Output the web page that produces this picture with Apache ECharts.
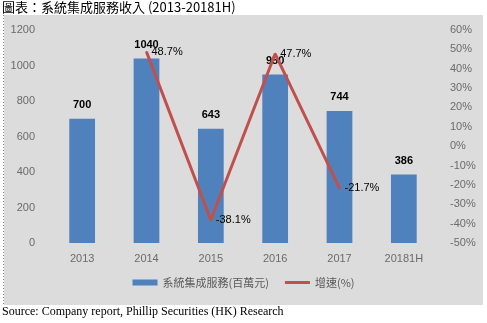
<!DOCTYPE html>
<html><head><meta charset="utf-8">
<script src="https://cdn.jsdelivr.net/npm/echarts@6/dist/echarts.min.js"></script>
<style>html,body{margin:0;padding:0;background:#fff}#c{width:487px;height:323px}</style>
</head><body><div id="c"></div>
<script>
const categories = ['2013','2014','2015','2016','2017','20181H'];
const revenue = [700, 1040, 643, 950, 744, 386];
const growth = [null, 48.7, -38.1, 47.7, -21.7, null];
const leftTicks = [0, 1200, 200];
const rightTicks = [-50, 60, 10];

const chart = echarts.init(document.getElementById('c'), null, {renderer:'canvas'});
const axisFont = {color:'#6b6b6b', fontSize:11, fontFamily:'"Liberation Sans", Arial, sans-serif'};
chart.setOption({
  animation:false,
  graphic:[
    {type:'rect', shape:{x:4, y:15, width:479, height:290}, style:{fill:'#dcdcdc'}, z:-10},
    {type:'line', shape:{x1:3.5, y1:15, x2:3.5, y2:305}, style:{stroke:'#888', lineDash:[1,2], lineWidth:1}, z:-9},
    {type:'text', left:2, top:1, style:{text:'圖表：系統集成服務收入 (2013-20181H)', fill:'#000', font:'13px "Noto Sans CJK TC", "Liberation Serif", serif'}},
    {type:'text', left:2, top:306, style:{text:'Source: Company report, Phillip Securities (HK) Research', fill:'#000', font:'12px "Liberation Serif", "Times New Roman", serif'}}
  ],
  grid:{left:50, right:51, top:30, bottom:80, containLabel:false},
  legend:{
    bottom:30, left:'center',
    itemGap:16,
    textStyle:{color:'#595959', fontSize:11, fontFamily:'"Noto Sans CJK TC", sans-serif'},
    data:[{name:'系統集成服務(百萬元)', icon:'rect'}, {name:'增速(%)', icon:'path://M0,0 L25,0 L25,3 L0,3 Z'}],
    itemWidth:25, itemHeight:6
  },
  xAxis:{type:'category', data:categories,
    axisLine:{show:false}, axisTick:{show:false},
    axisLabel:Object.assign({margin:10}, axisFont)},
  yAxis:[
    {type:'value', min:leftTicks[0], max:leftTicks[1], interval:leftTicks[2],
      splitLine:{show:false}, axisLine:{show:false}, axisTick:{show:false},
      axisLabel:Object.assign({margin:15, formatter:v=>String(v)}, axisFont)},
    {type:'value', min:rightTicks[0], max:rightTicks[1], interval:rightTicks[2],
      splitLine:{show:false}, axisLine:{show:false}, axisTick:{show:false},
      axisLabel:Object.assign({margin:14, formatter:'{value}%'}, axisFont)}
  ],
  series:[
    {name:'系統集成服務(百萬元)', type:'bar', data:revenue, barWidth:'40%',
      itemStyle:{color:'#4f81bd'},
      label:{show:true, position:'top', distance:8, color:'#000', fontWeight:'bold', fontSize:11, fontFamily:'"Liberation Sans", Arial, sans-serif'}},
    {name:'增速(%)', type:'line', yAxisIndex:1, data:growth, connectNulls:false,
      symbol:'circle', symbolSize:2, showSymbol:true,
      lineStyle:{color:'#c0504d', width:3}, itemStyle:{color:'#c0504d'},
      label:{show:true, position:'right', distance:4, color:'#000', fontSize:11, formatter:p=>p.value.toFixed(1)+'%', fontFamily:'"Liberation Sans", Arial, sans-serif'}}
  ]
});
</script></body></html>
